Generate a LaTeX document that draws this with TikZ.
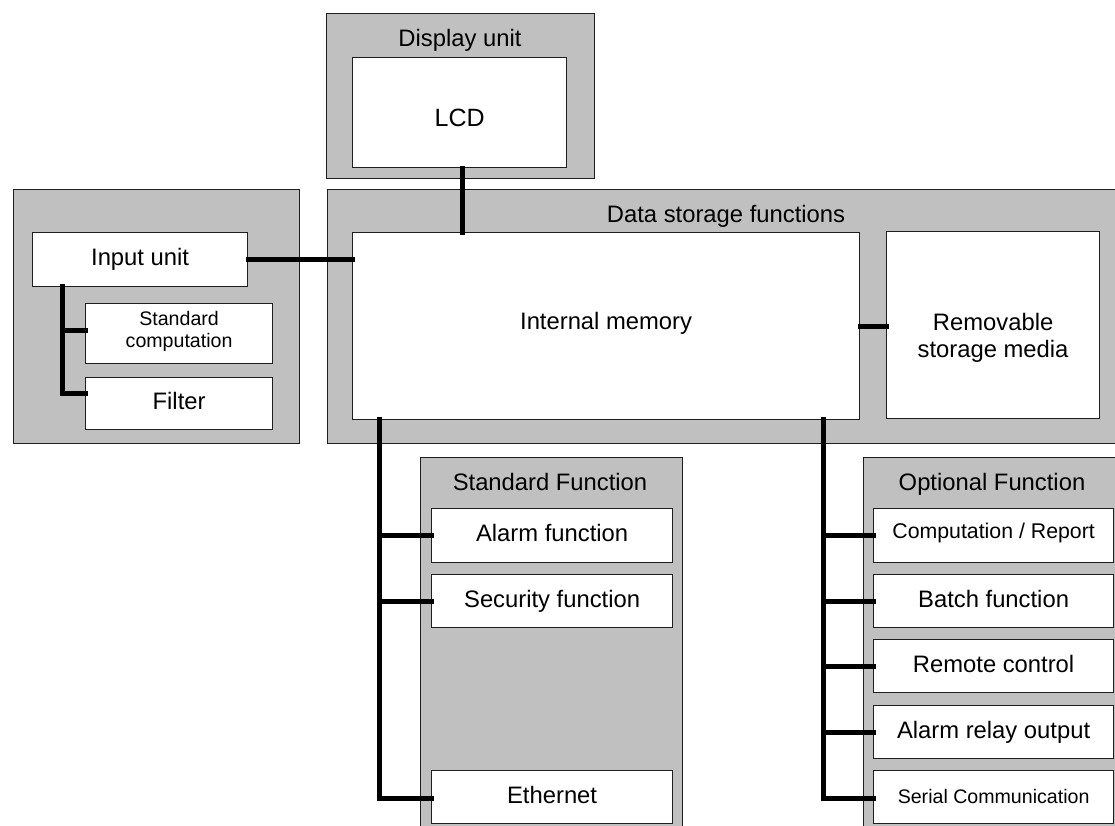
\documentclass[tikz,border=0pt]{standalone}
\usepackage{fontspec}
\setmainfont{Liberation Sans}
\definecolor{panelgray}{RGB}{192,192,192}
\definecolor{edge}{RGB}{30,30,30}
\tikzset{
  panel/.style={draw=edge, line width=1.2pt, fill=panelgray, inner sep=0pt},
  box/.style={draw=edge, line width=1.2pt, fill=white, inner sep=0pt, align=center,
              text height=17.4pt, text depth=5pt,
              font=\fontsize{23.8}{26.5}\selectfont},
  multi/.style={text height=, text depth=},
  ttl/.style={inner sep=0pt, text height=17.4pt, text depth=5pt,
              font=\fontsize{23.8}{26.5}\selectfont},
  conn/.style={line width=5pt, line join=miter, line cap=rect},
}
% rectangle node given by its top-left corner and size (y grows downward)
\newcommand{\blk}[6]{\node[#1, anchor=north west, minimum width=#4pt, minimum height=#5pt] (#2) at (#3) {#6};}
% text moved vertically inside its box without changing the box's size
\newcommand{\vmove}[2]{\raisebox{#1}[\height][\depth]{#2}}
\begin{document}
\begin{tikzpicture}[x=1pt, y=-1pt]
\clip (0,0) rectangle (1115,825);
\fill[white] (0,0) rectangle (1115,825);

% outer group panels
\blk{panel}{disp}{326,13}{268}{165}{}
\blk{panel}{store}{327,189}{820}{254}{}
\blk{panel}{inp}{13,189}{286}{254}{}
\blk{panel}{stdf}{420,457}{262}{400}{}
\blk{panel}{optf}{863,457}{280}{400}{}

% panel titles
\node[ttl] (dispT) at (460,40.5) {Display unit};
\node[ttl] (storeT) at (726,216) {Data storage functions};
\node[ttl] (stdfT) at (550,484) {Standard Function};
\node[ttl] (optfT) at (992,484) {Optional Function};

% display unit
\blk{box, font=\fontsize{25}{28}\selectfont, text height=30pt, text depth=2pt}{lcd}{352,57}{214}{110}{LCD}

% data storage
\blk{box}{mem}{352,232}{507}{187}{\vmove{3pt}{Internal memory}}
\blk{box, multi, font=\fontsize{23.8}{27}\selectfont}{rem}{886,231}{213}{187}%
  {\vmove{-13.5pt}{\begin{tabular}{@{}c@{}}Removable\\storage media\end{tabular}}}

% input unit group
\blk{box}{input}{32,232}{215}{54}{Input unit}
\blk{box, multi, font=\fontsize{19.6}{22}\selectfont}{stdc}{85,303}{187}{60}%
  {\vmove{1.5pt}{\begin{tabular}{@{}c@{}}Standard\\computation\end{tabular}}}
\blk{box}{filt}{85,377}{187}{52}{Filter}

% standard functions
\blk{box}{alarm}{431,508}{241}{54}{Alarm function}
\blk{box}{sec}{431,574}{241}{53}{Security function}
\blk{box}{eth}{431,770}{241}{53}{Ethernet}

% optional functions
\blk{box, font=\fontsize{21.3}{24}\selectfont}{comp}{873,508}{240}{54}{\vmove{3pt}{Computation / Report}}
\blk{box}{batch}{873,574}{240}{53}{Batch function}
\blk{box}{remote}{873,639}{240}{53}{Remote control}
\blk{box}{relay}{873,705}{240}{53}{Alarm relay output}
\blk{box, font=\fontsize{19.6}{22}\selectfont}{serial}{873,770}{240}{53}{Serial Communication}

% connectors
\draw[conn] (lcd.south -| 462,0) -- (mem.north -| 462,0);
\draw[conn] (input.east) -- (input.east -| mem.west);
\draw[conn] (mem.east) -- (mem.east -| rem.west);

\coordinate (inBus) at (62,286);
\draw[conn] (inBus) |- ([yshift=10pt]filt.west);
\draw[conn] (inBus |- stdc.west) ++(0,-3) -- ([yshift=3pt]stdc.west);

\coordinate (stdBus) at (379,419);
\draw[conn] (stdBus) |- ([yshift=-1pt]eth.west);
\draw[conn] (stdBus |- alarm.west) -- (alarm.west);
\draw[conn] (stdBus |- sec.west) -- (sec.west);

\coordinate (optBus) at (823,419);
\draw[conn] (optBus) |- ([yshift=-1pt]serial.west);
\draw[conn] (optBus |- comp.west) -- (comp.west);
\draw[conn] (optBus |- batch.west) -- (batch.west);
\draw[conn] (optBus |- remote.west) -- (remote.west);
\draw[conn] (optBus |- relay.west) -- (relay.west);
\end{tikzpicture}
\end{document}
